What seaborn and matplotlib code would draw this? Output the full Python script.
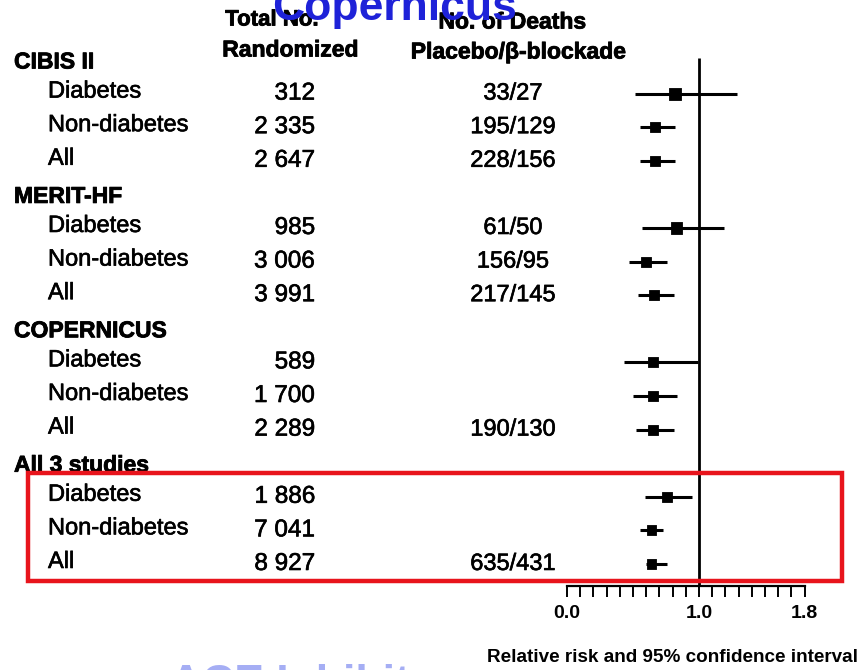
import numpy as np
import pandas as pd
import matplotlib
matplotlib.use("Agg")
import matplotlib.pyplot as plt
import matplotlib.transforms as mtransforms
import matplotlib.patheffects as pe
from matplotlib.patches import Rectangle
import seaborn as sns

# ---- data -------------------------------------------------------------
studies = ["CIBIS II", "MERIT-HF", "COPERNICUS", "All 3 studies"]
subgroups = ["Diabetes", "Non-diabetes", "All"]
randomized = [312, 2335, 2647, 985, 3006, 3991, 589, 1700, 2289, 1886, 7041, 8927]
deaths = ["33/27", "195/129", "228/156",
          "61/50", "156/95", "217/145",
          "", "", "190/130",
          "", "", "635/431"]
relative_risk = [0.82, 0.67, 0.67, 0.83, 0.60, 0.66, 0.65, 0.65, 0.65, 0.76, 0.64, 0.64]
ci_low = [0.515, 0.55, 0.55, 0.57, 0.47, 0.54, 0.43, 0.50, 0.52, 0.59, 0.55, 0.60]
ci_high = [1.29, 0.82, 0.82, 1.19, 0.76, 0.81, 0.99, 0.83, 0.81, 0.95, 0.73, 0.76]
x_ticks = [0.0, 1.0, 1.8]
x_tick_labels = ["0.0", "1.0", "1.8"]

# ---- table of rows ----------------------------------------------------
records = []
k = 0
for i, study in enumerate(studies):
    for j, sub in enumerate(subgroups):
        records.append(dict(study=study, subgroup=sub, row=4 * i + j + 1,
                            n=randomized[k], deaths=deaths[k],
                            rr=relative_risk[k], lo=ci_low[k], hi=ci_high[k]))
        k += 1
df = pd.DataFrame(records)
marker_area = [74, 52, 52, 64, 52, 52, 50, 50, 50, 50, 50, 45]

# ---- figure -----------------------------------------------------------
sns.set_theme(style="white")
plt.rcParams["font.family"] = ["Liberation Sans", "DejaVu Sans"]

W, H = 866, 670
fig = plt.figure(figsize=(W / 100, H / 100), dpi=100)
fig.patch.set_facecolor("white")


def fx(p):
    return p / W


def fy(p):
    return 1 - p / H


# slightly thickened strokes for the scanned-slide look
heavy = [pe.withStroke(linewidth=0.45, foreground="black")]
heavy_bold = [pe.withStroke(linewidth=0.6, foreground="black")]

# row r sits at pixel 60 + 33.6 r ; axes spans 40..586 px vertically
ax = fig.add_axes([fx(567), fy(586), fx(804.6) - fx(567), fy(40) - fy(586)])
ax.set_xlim(0, 1.8)
ax.set_ylim(15.655, -0.595)
ax.patch.set_alpha(0)

# confidence intervals and point estimates
ax.hlines(df["row"], df["lo"], df["hi"], color="black", lw=2.2, zorder=2)
sns.scatterplot(data=df, x="rr", y="row", marker="s", s=marker_area,
                color="black", edgecolor="black", linewidth=0.6,
                legend=False, ax=ax, zorder=3)
ax.vlines(1.0, -0.06, 15.655, color="black", lw=2.0, zorder=1)

for side in ["left", "right", "top"]:
    ax.spines[side].set_visible(False)
ax.spines["bottom"].set_linewidth(1.6)
ax.spines["bottom"].set_color("black")
ax.set_xticks(x_ticks)
ax.set_xticklabels(x_tick_labels, fontsize=14, fontweight="bold", color="black")
ax.set_xticks(np.arange(0, 1.81, 0.1), minor=True)
ax.tick_params(axis="x", which="both", direction="out", length=8, width=1.4,
               color="black", pad=6, bottom=True)
ax.set_yticks([])
ax.set_xlabel("")
ax.set_ylabel("")

# ---- row text ---------------------------------------------------------
trans = mtransforms.blended_transform_factory(fig.transFigure, ax.transData)
trans_head = mtransforms.offset_copy(trans, fig=fig, y=-2, units="dots")
trans_lab = mtransforms.offset_copy(trans, fig=fig, y=2, units="dots")

for i, study in enumerate(studies):
    fig.text(fx(14), 4 * i, study, transform=trans_head, ha="left", va="center",
             fontsize=16.5, fontweight="bold", color="black",
             path_effects=heavy_bold)

for _, r in df.iterrows():
    fig.text(fx(48), r["row"], r["subgroup"], transform=trans_lab, ha="left",
             va="center", fontsize=17, color="black", path_effects=heavy)
    fig.text(fx(315), r["row"], f"{r['n']:,}".replace(",", " "), transform=trans,
             ha="right", va="center", fontsize=17.5, color="black",
             path_effects=heavy)
    if r["deaths"]:
        fig.text(fx(513), r["row"], r["deaths"], transform=trans, ha="center",
                 va="center", fontsize=17, color="black", path_effects=heavy)

# column headings
head_kw = dict(ha="center", va="center", fontweight="bold", color="black",
               path_effects=heavy_bold)
fig.text(fx(272), fy(20), "Total No.", fontsize=16, **head_kw)
fig.text(fx(290), fy(50), "Randomized", fontsize=16.5, **head_kw)
fig.text(fx(512), fy(22), "No. of Deaths", fontsize=16.5, **head_kw)
fig.text(fx(518), fy(52), "Placebo/\u03b2-blockade", fontsize=16.5, **head_kw)

# slide title and caption
fig.text(fx(395), fy(20), "Copernicus", ha="center", va="baseline",
         fontsize=32, fontweight="bold", color="#1e22d8", zorder=6)
fig.text(fx(487), fy(657), "Relative risk and 95% confidence interval",
         ha="left", va="center", fontsize=13.6, fontweight="bold", color="black")
fig.text(fx(325), fy(664), "ACE Inhibitors", ha="center", va="top",
         fontsize=32, fontweight="bold", color="#8f9af2", alpha=0.8)

# highlight of the pooled result
fig.add_artist(Rectangle((fx(28), fy(581)), fx(842) - fx(28), fy(473) - fy(581),
                         transform=fig.transFigure, fill=False,
                         edgecolor="#e8141c", linewidth=3.2, zorder=10))

fig.savefig("out.png", dpi=100, facecolor="white")
